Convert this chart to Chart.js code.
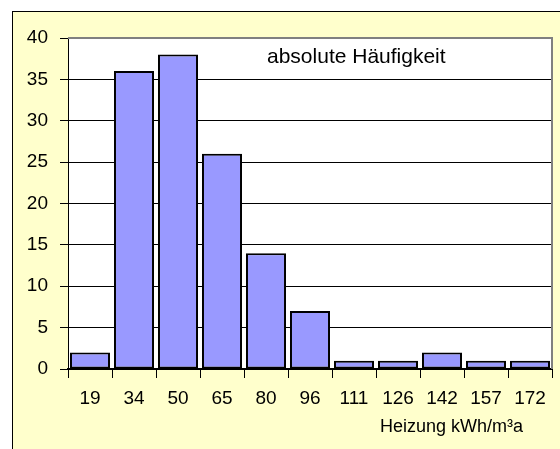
<!DOCTYPE html>
<html>
<head>
<meta charset="utf-8">
<script src="https://cdn.jsdelivr.net/npm/chart.js@4.4.1/dist/chart.umd.min.js"></script>
<style>
  html, body { margin: 0; padding: 0; background: #ffffff; }
  #wrap { width: 560px; height: 449px; position: relative; }
</style>
</head>
<body>
<div id="wrap"><canvas id="chart" width="560" height="449"></canvas></div>
<script>
// Klassen (Heizung kWh/m³a) und absolute Häufigkeit
const categories = ['19', '34', '50', '65', '80', '96', '111', '126', '142', '157', '172'];
const counts = [2, 36, 38, 26, 14, 7, 1, 1, 2, 1, 1];
const yTicks = [0, 5, 10, 15, 20, 25, 30, 35, 40];
const seriesLabel = 'absolute Häufigkeit';
const axisTitle = 'Heizung kWh/m³a';

const regular = "'Liberation Sans', Arial, sans-serif";

// Rahmen, Hintergrund und Beschriftungen im Excel-Stil
const frame = {
    id: 'frame',
    beforeDraw(chart) {
        const ctx = chart.ctx;
        const a = chart.chartArea;
        ctx.save();
        ctx.fillStyle = '#ffffff';
        ctx.fillRect(0, 0, chart.width, chart.height);
        ctx.fillStyle = '#ffffcc';
        ctx.fillRect(12, 11, chart.width, chart.height);
        ctx.strokeStyle = '#000';
        ctx.lineWidth = 1;
        ctx.strokeRect(12.5, 11.5, chart.width + 10, chart.height + 10);
        ctx.fillStyle = '#ffffff';
        ctx.fillRect(a.left, a.top, a.right - a.left, a.bottom - a.top);
        ctx.restore();
    },
    afterDraw(chart) {
        const ctx = chart.ctx;
        const a = chart.chartArea;
        ctx.save();
        ctx.strokeStyle = '#808080';
        ctx.lineWidth = 2;
        ctx.beginPath();
        ctx.moveTo(a.left, a.top);
        ctx.lineTo(a.right, a.top);
        ctx.lineTo(a.right, a.bottom);
        ctx.stroke();
        ctx.fillStyle = '#000';
        ctx.textBaseline = 'alphabetic';
        ctx.font = '21px ' + regular;
        ctx.textAlign = 'left';
        ctx.fillText(seriesLabel, 267, 63);
        ctx.font = '18px ' + regular;
        ctx.textAlign = 'right';
        ctx.fillText(axisTitle, 523, 432);
        ctx.restore();
    }
};

new Chart(document.getElementById('chart'), {
    type: 'bar',
    data: {
        labels: categories,
        datasets: [{
            label: seriesLabel,
            data: counts,
            backgroundColor: '#9999ff',
            borderColor: '#000000',
            borderWidth: 2,
            borderSkipped: false,
            barPercentage: 0.91,
            categoryPercentage: 1.0
        }]
    },
    options: {
        responsive: false,
        animation: false,
        layout: { padding: { left: 0, top: 38, right: 8, bottom: 0 } },
        plugins: { legend: { display: false }, tooltip: { enabled: false } },
        scales: {
            x: {
                afterFit: s => { s.height = 80; },
                grid: { offset: true, drawOnChartArea: false, tickLength: 9, color: '#000', lineWidth: 1 },
                border: { color: '#000', width: 2 },
                ticks: { color: '#000', font: { family: regular, size: 19 }, padding: 9, maxRotation: 0 }
            },
            y: {
                min: 0,
                max: 40,
                afterFit: s => { s.width = 68; },
                afterBuildTicks: s => { s.ticks = yTicks.map(v => ({ value: v })); },
                grid: {
                    color: c => (c.tick && c.tick.value === 40) ? '#808080' : '#000',
                    tickColor: '#000',
                    tickLength: 8,
                    lineWidth: 1
                },
                border: { color: '#000', width: 1 },
                ticks: { color: '#000', font: { family: regular, size: 19 }, padding: 12 }
            }
        }
    },
    plugins: [frame]
});
</script>
</body>
</html>
